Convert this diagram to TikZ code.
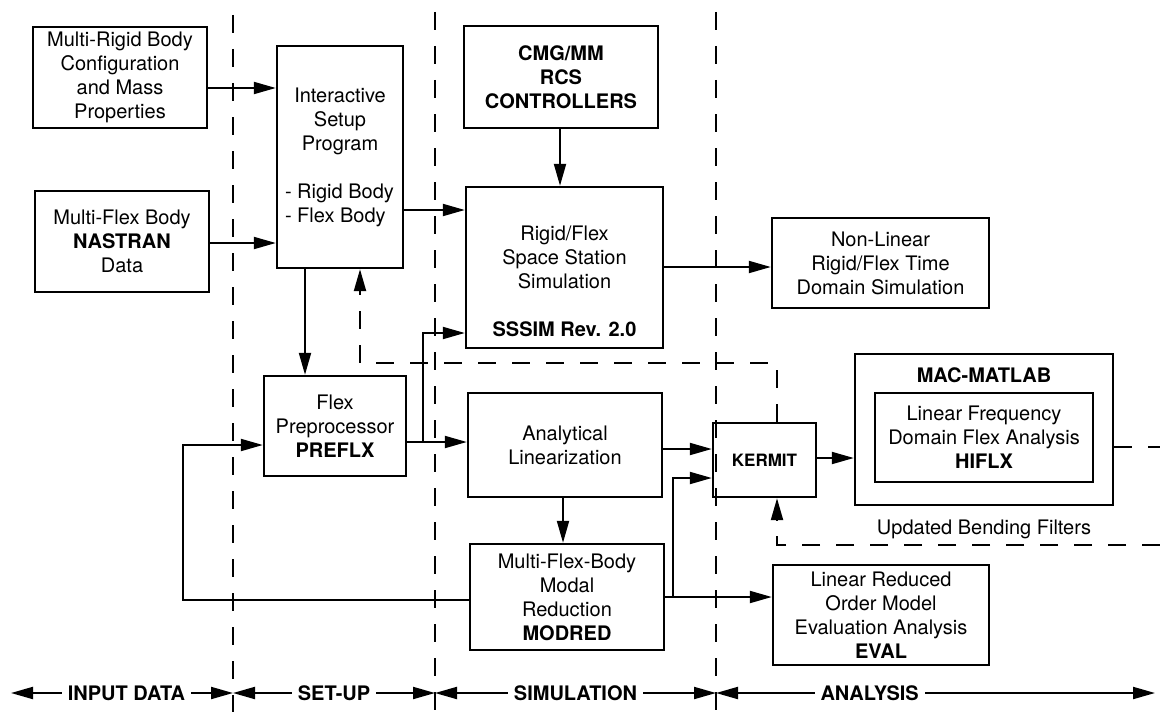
\documentclass[tikz,border=0pt]{standalone}
\usepackage{fontspec}
\setmainfont{TeX Gyre Heros}
\usetikzlibrary{arrows.meta, positioning}

\begin{document}
\begin{tikzpicture}[
  x=0.5pt, y=-0.5pt,
  font=\fontsize{10}{12}\selectfont,
  blk/.style={rectangle, draw, line width=1.2pt, align=center, inner sep=1pt},
  arr/.style={-{Triangle[length=11pt,width=6pt]}, line width=1pt},
  dsh/.style={line width=1.1pt, dash pattern=on 9pt off 8pt},
  darr/.style={dsh, -{Triangle[length=11pt,width=6pt]}},
  divider/.style={line width=1.1pt, dash pattern=on 9pt off 8pt},
  phase/.style={{Triangle[length=11pt,width=6pt]}-{Triangle[length=11pt,width=6pt]}, line width=1pt},
  tag/.style={fill=white, inner xsep=3pt, font=\fontsize{10}{12}\selectfont\bfseries}
]
  \useasboundingbox (0,0) rectangle (1160,717);

  \draw[divider] (233,15) -- (233,712);
  \draw[divider] (435,12) -- (435,712);
  \draw[divider] (716,12) -- (716,712);

  \node[blk, minimum width=87pt, minimum height=50.5pt] (mrb) at (120,77.5) {Multi-Rigid Body\\Configuration\\and Mass\\Properties};
  \node[blk, minimum width=87pt, minimum height=50.5pt] (mfb) at (122,241.5) {Multi-Flex Body\\\textbf{NASTRAN}\\Data};
  \node[blk, minimum width=63pt, minimum height=111pt] (isp) at (340,157) {Interactive\\Setup\\Program\\[12pt]\makebox[55pt][l]{- Rigid Body}\\\makebox[55pt][l]{- Flex Body}};
  \node[blk, minimum width=97pt, minimum height=51pt, font=\fontsize{10}{12}\selectfont\bfseries] (cmg) at (561,77) {CMG/MM\\RCS\\CONTROLLERS};
  \node[blk, minimum width=98.5pt, minimum height=80.5pt] (sss) at (564.5,267.5) {\rule{0pt}{21pt}Rigid/Flex\\Space Station\\Simulation\\[12pt]\textbf{SSSIM Rev. 2.0}};
  \node[blk, minimum width=108.5pt, minimum height=45pt] (nonlin) at (880.5,263) {Non-Linear\\Rigid/Flex Time\\Domain Simulation};
  \node[blk, minimum width=71pt, minimum height=50pt] (preflx) at (335,426) {Flex\\Preprocessor\\\textbf{PREFLX}};
  \node[blk, minimum width=97pt, minimum height=52pt] (anal) at (565,445) {Analytical\\Linearization};
  \node[blk, minimum width=97pt, minimum height=53pt] (modred) at (567,597) {Multi-Flex-Body\\Modal\\Reduction\\\textbf{MODRED}};
  \node[blk, minimum width=51.5pt, minimum height=37pt, font=\fontsize{8.5}{10}\selectfont\bfseries] (kermit) at (764.5,460) {KERMIT};
  \node[blk, minimum width=129pt, minimum height=75.5pt] (mac) at (984,429.5) {};
  \node[font=\fontsize{10}{12}\selectfont\bfseries, below=4pt of mac.north] (mactitle) {MAC-MATLAB};
  \node[blk, minimum width=109pt, minimum height=44.5pt] (hiflx) at (984,437.5) {Linear Frequency\\Domain Flex Analysis\\\textbf{HIFLX}};
  \node[below=3.5pt of mac] (filters) {Updated Bending Filters};
  \node[blk, minimum width=108pt, minimum height=50pt] (eval) at (881,615) {Linear Reduced\\Order Model\\Evaluation Analysis\\\textbf{EVAL}};

  \coordinate (br1) at (423,442);
  \coordinate (br2) at (673,597);
  \coordinate (rtop) at (1160,447);
  \coordinate (rbot) at (1160,545);

  \draw[arr] (mrb.east |- 0,88) -- (isp.west |- 0,88);
  \draw[arr] (mfb.east |- 0,243) -- (isp.west |- 0,243);
  \draw[arr] (isp.east |- 0,210) -- (sss.west |- 0,210);
  \draw[arr] (cmg.south -| 560,0) -- (sss.north -| 560,0);
  \draw[arr] (sss.east |- 0,267) -- (nonlin.west |- 0,267);
  \draw[arr] (isp.south -| 305,0) -- (preflx.north -| 305,0);
  \draw[darr] (kermit.north -| 777,0) |- (360,363) -- (isp.south -| 360,0);
  \draw[arr] (preflx.east |- br1) -- (anal.west |- br1);
  \draw[arr] (br1) |- (sss.west |- 0,333);
  \draw[arr] (anal.east |- 0,449) -- (kermit.west |- 0,449);
  \draw[arr] (anal.south -| 563,0) -- (modred.north -| 563,0);
  \draw[arr] (modred.east |- br2) -- (eval.west |- br2);
  \draw[arr] (br2) |- (kermit.west |- 0,478);
  \draw[arr] (modred.west |- 0,600) -| (183,445) -- (preflx.west |- 0,445);
  \draw[arr] (kermit.east |- 0,458) -- (mac.west |- 0,458);
  \draw[dsh] (mac.east |- rtop) -- (rtop);
  \draw[darr] (rbot) -| (kermit.south -| 777,0);

  \coordinate (p0) at (11,693);
  \coordinate (p1) at (233,693);
  \coordinate (p2) at (435,693);
  \coordinate (p3) at (716,693);
  \coordinate (p4) at (1155,693);
  \draw[phase] (p0) -- node[tag, pos=0.52] (indata) {INPUT DATA} (p1);
  \draw[phase] (p1) -- node[tag, pos=0.5] (setup) {SET-UP} (p2);
  \draw[phase] (p2) -- node[tag, pos=0.5] (simul) {SIMULATION} (p3);
  \draw[phase] (p3) -- node[tag, pos=0.35] (analys) {ANALYSIS} (p4);
\end{tikzpicture}
\end{document}
